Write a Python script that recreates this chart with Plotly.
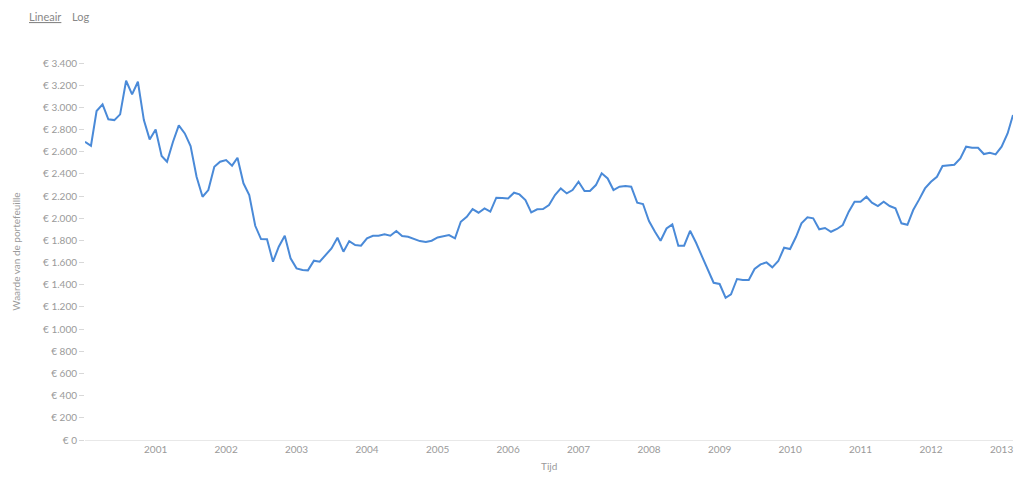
import pandas as pd
import plotly.graph_objects as go

# Portefeuillewaarde per maand, jan 2000 - mrt 2013
start_month = "2000-01-01"
waarde = [
    2690, 2654, 2967, 3027, 2892, 2885, 2937, 3240, 3117, 3231, 2885, 2711,
    2801, 2561, 2510, 2690, 2838, 2765, 2651, 2374, 2194, 2254, 2465, 2510,
    2525, 2474, 2546, 2315, 2209, 1932, 1812, 1810, 1608, 1743, 1842, 1638,
    1548, 1533, 1530, 1617, 1608, 1674, 1728, 1824, 1698, 1794, 1758, 1752,
    1818, 1842, 1842, 1855, 1842, 1885, 1840, 1833, 1812, 1794, 1785, 1797,
    1827, 1840, 1848, 1818, 1968, 2013, 2083, 2050, 2089, 2059, 2185, 2182,
    2179, 2230, 2215, 2164, 2053, 2080, 2083, 2119, 2209, 2269, 2224, 2254,
    2329, 2245, 2245, 2299, 2405, 2359, 2254, 2284, 2290, 2284, 2140, 2128,
    1975, 1878, 1797, 1908, 1945, 1752, 1752, 1887, 1779, 1659, 1539, 1418,
    1407, 1283, 1314, 1452, 1443, 1443, 1542, 1584, 1602, 1557, 1614, 1734,
    1722, 1833, 1954, 2008, 1999, 1900, 1912, 1878, 1903, 1939, 2059, 2149,
    2149, 2194, 2140, 2110, 2149, 2110, 2089, 1954, 1941, 2074, 2170, 2269,
    2329, 2374, 2471, 2480, 2483, 2540, 2645, 2636, 2636, 2579, 2591, 2576,
    2645, 2765, 2931,
]
jaren = [str(j) for j in range(2001, 2014)]
y_ticks = list(range(0, 3401, 200))
y_labels = ["€ " + f"{v:,}".replace(",", ".") for v in y_ticks]

maanden = pd.date_range(start_month, periods=len(waarde), freq="MS")

# pagina heeft 8px body-marge, dus figuur iets kleiner dan het venster
W, H = 1008, 467
L, R, T, B = 77, 3, 55, 35
pw, ph = W - L - R, H - T - B

fig = go.Figure()
fig.add_trace(go.Scatter(
    x=maanden, y=waarde, mode="lines",
    line=dict(color="#4a8ad8", width=2),
    hoverinfo="skip",
))

grey = "#9a9a9a"
fig.update_layout(
    width=W, height=H,
    margin=dict(l=L, r=R, t=T, b=B),
    paper_bgcolor="white", plot_bgcolor="white",
    font=dict(family="Lato, sans-serif", size=10, color=grey),
    showlegend=False,
    xaxis=dict(
        range=[maanden[0], maanden[-1]],
        tickvals=[j + "-01-01" for j in jaren], ticktext=jaren,
        showgrid=False, zeroline=False,
        showline=True, linecolor="#e8e8e8", linewidth=1,
        ticks="", automargin=False,
        tickfont=dict(size=10, color=grey),
    ),
    yaxis=dict(
        range=[0, 3400],
        tickvals=y_ticks, ticktext=y_labels,
        showgrid=False, zeroline=False, showline=False,
        ticks="outside", ticklen=5, tickcolor="#d8d8d8", automargin=False,
        tickfont=dict(size=10, color=grey),
        title=dict(text="Waarde van de portefeuille", font=dict(size=10, color=grey), standoff=20),
    ),
)

# x-as titel als annotatie, zodat de marge niet verschuift
fig.add_annotation(
    text="Tijd", xref="paper", yref="paper", x=0.5, y=-(458 - (T + ph)) / ph,
    xanchor="center", yanchor="middle", showarrow=False,
    font=dict(size=10, color=grey),
)

# schakelknoppen linksboven (pixelposities omgerekend naar paper-coordinaten)
for tekst, px_x in [("<u>Lineair</u>", 19), ("Log", 62)]:
    fig.add_annotation(
        text=tekst, xref="paper", yref="paper",
        x=(px_x - L) / pw, y=1 + (T - 8) / ph,
        xanchor="left", yanchor="middle", showarrow=False,
        font=dict(size=11, color="#888"),
    )

fig.write_html("out.html")
